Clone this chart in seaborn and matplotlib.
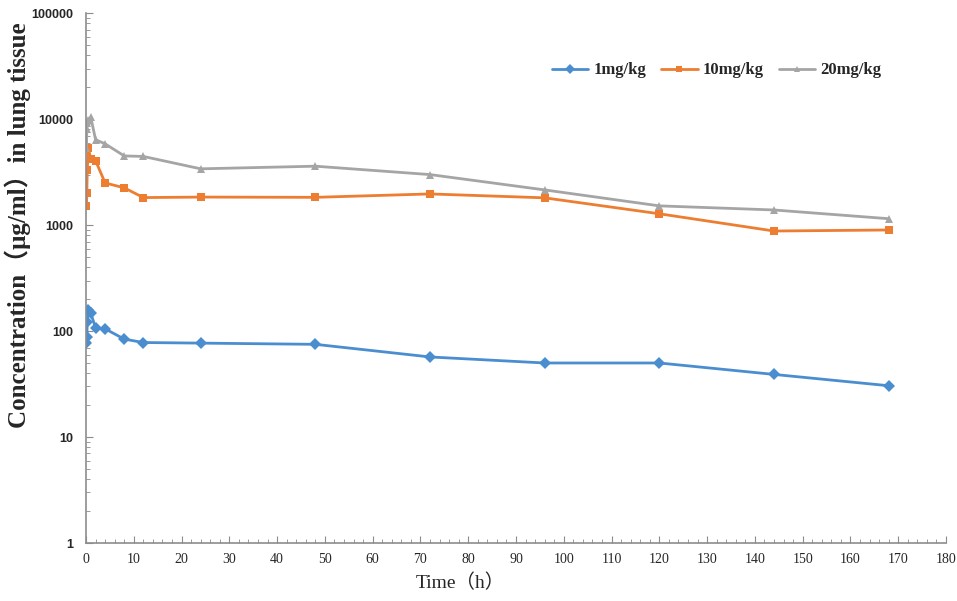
import numpy as np
import pandas as pd
import matplotlib
matplotlib.use("Agg")
import matplotlib.pyplot as plt
import matplotlib.ticker as mticker
import seaborn as sns

# Dados
time_h = [0.083, 0.167, 0.25, 0.5, 1, 2, 4, 8, 12, 24, 48, 72, 96, 120, 144, 168]
dose_1 = [77, 87, 121, 157, 147, 107, 105, 84, 78, 77, 75, 57, 50, 50, 39, 30.5]
dose_10 = [1520, 2000, 3300, 5300, 4200, 4050, 2500, 2250, 1820, 1840, 1830, 1970, 1810, 1280, 880, 900]
dose_20 = [5300, 8000, 9300, 9800, 10400, 6400, 5850, 4500, 4450, 3400, 3600, 3000, 2150, 1520, 1390, 1150]
labels = ["1mg/kg", "10mg/kg", "20mg/kg"]
colors = ["#4A8ED0", "#ED7D31", "#A5A5A5"]
markers = ["D", "s", "^"]

df = pd.DataFrame({
    "Time": time_h * 3,
    "Conc": dose_1 + dose_10 + dose_20,
    "Dose": [labels[0]] * len(time_h) + [labels[1]] * len(time_h) + [labels[2]] * len(time_h),
})

sns.set_style("ticks")
serif = ["Liberation Serif", "Noto Sans CJK SC"]

fig = plt.figure(figsize=(9.57, 6.01), dpi=100)
ax = fig.add_axes([0.0899, 0.0965, 0.8986, 0.8815])

sns.lineplot(data=df, x="Time", y="Conc", hue="Dose", style="Dose",
             palette=colors, markers=markers, dashes=False, markersize=6,
             markeredgewidth=0, linewidth=2, ax=ax)

ax.set_yscale("log")
ax.set_ylim(1, 100000)
ax.set_xlim(0, 180)
ax.set_xticks(np.arange(0, 181, 10))
ax.xaxis.set_minor_locator(mticker.MultipleLocator(2))
ax.yaxis.set_major_locator(mticker.LogLocator(base=10, numticks=10))
ax.yaxis.set_minor_locator(mticker.LogLocator(base=10, subs=np.arange(2, 10), numticks=10))
ax.yaxis.set_minor_formatter(mticker.NullFormatter())
ax.yaxis.set_major_formatter(mticker.FuncFormatter(lambda v, p: f"{int(round(v))}"))

for sp in ["top", "right"]:
    ax.spines[sp].set_visible(False)
for sp in ["left", "bottom"]:
    ax.spines[sp].set_color("#8C8C8C")
    ax.spines[sp].set_linewidth(1.2)

ax.tick_params(axis="both", which="both", direction="in", color="#8C8C8C")
ax.tick_params(axis="both", which="major", length=5)
ax.tick_params(axis="both", which="minor", length=3)
ax.tick_params(axis="y", pad=9)
ax.tick_params(axis="x", pad=7)

for t in ax.get_yticklabels():
    t.set_fontfamily("Liberation Sans")
    t.set_fontweight("bold")
    t.set_fontsize(9)
for t in ax.get_xticklabels():
    t.set_fontfamily(serif)
    t.set_fontsize(10)

ax.set_xlabel("Time（h）", family=serif, fontsize=14)
ax.set_ylabel("Concentration（μg/ml）in lung tissue", family=serif,
              fontsize=18, fontweight="bold")
ax.xaxis.set_label_coords(0.435, -0.058)
ax.yaxis.set_label_coords(-0.064, 0.6)

leg = ax.legend(loc="center right", bbox_to_anchor=(0.925, 0.892), ncol=3, frameon=False,
                prop={"family": serif, "weight": "bold", "size": 12},
                handlelength=2.2, columnspacing=0.9, handletextpad=0.3,
                borderaxespad=0, borderpad=0)
for h in leg.legend_handles:
    h.set_markersize(5)

fig.savefig("out.png", dpi=100)
